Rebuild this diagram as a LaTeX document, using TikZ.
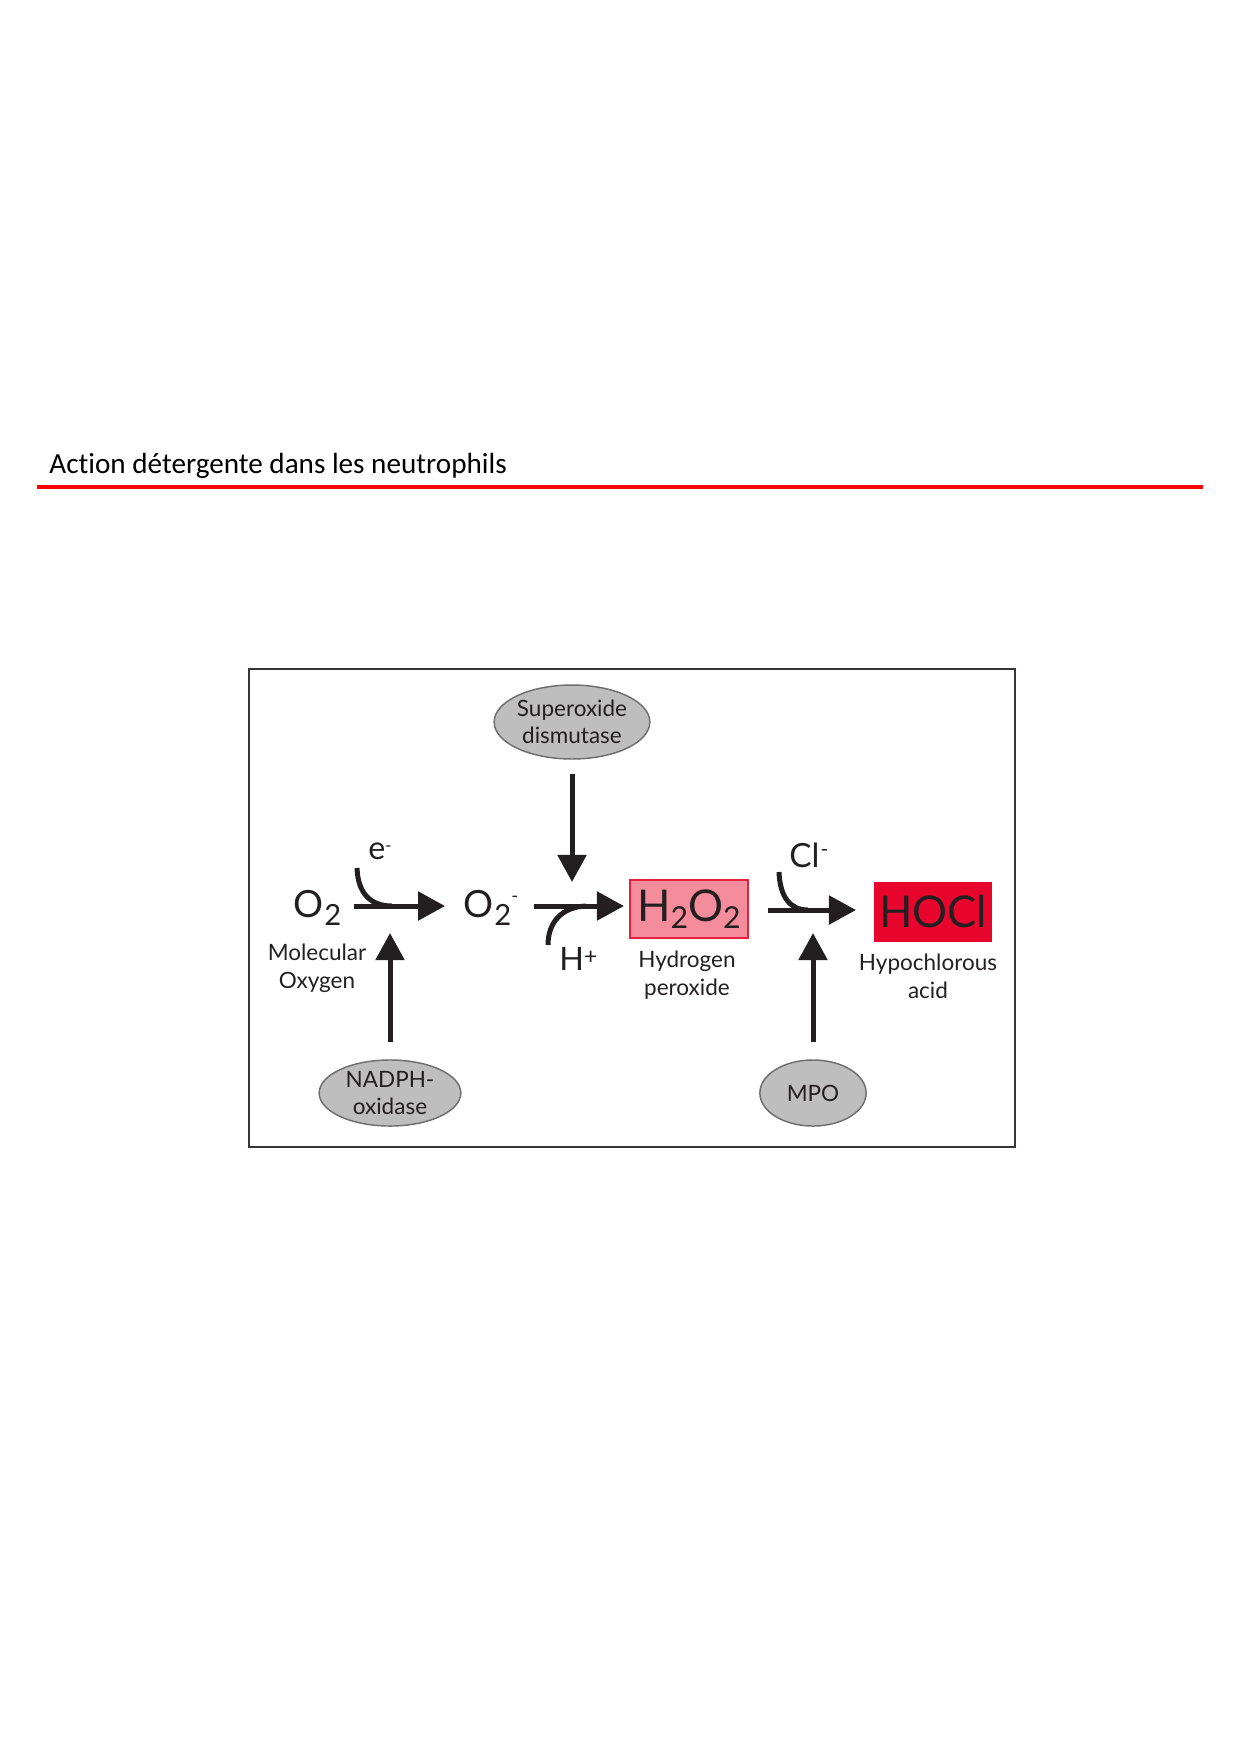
\documentclass[tikz,border=0pt]{standalone}
\usepackage{fontspec}
\setmainfont{Carlito}[Ligatures=NoCommon]
\newfontfamily\lato{Lato}
\usetikzlibrary{arrows.meta,shapes.geometric}
\definecolor{ink}{HTML}{231F20}
\definecolor{rougeh}{HTML}{E6203F}
\definecolor{roseh}{HTML}{F48C9B}
\definecolor{rougehocl}{HTML}{E8052D}
\definecolor{grisfond}{HTML}{BEBEBE}
\definecolor{grisbord}{HTML}{6E6E6E}
\newcommand{\chemidx}[3]{{\fontsize{#1}{#1}\selectfont\raisebox{#2}{#3}}}

\begin{document}
\begin{tikzpicture}[x=0.48pt, y=-0.48pt,
    enzyme/.style={ellipse, draw=grisbord, line width=0.7pt, fill=grisfond, inner sep=0pt,
        align=center, text=ink, font=\lato\fontsize{10.8}{13}\selectfont},
    espece/.style={inner sep=0pt, text=ink, anchor=base west},
    legende/.style={inner sep=0pt, text=ink, align=center, anchor=base,
        font=\lato\fontsize{10.8}{13}\selectfont},
    fleche/.style={draw=ink, line width=2.4pt, -{Triangle[length=13pt,width=13.5pt]}},
    courbe/.style={draw=ink, line width=2.4pt}]

    \useasboundingbox ( 0, 0 ) rectangle ( 1240, 1755 );

    % titre
    \node [anchor=base west, inner sep=0pt, font=\fontsize{14}{17}\selectfont] (titre) at ( 49, 473 ) {Action détergente dans les neutrophils};
    \draw [red, line width=1.6pt] ( 37, 487 ) -- ( 1203, 487 );

    % cadre
    \draw [ink!90, line width=0.9pt] ( 249, 669 ) rectangle ( 1015, 1147 );

    % enzymes
    \node [enzyme, minimum width=73pt, minimum height=35.5pt] (sod) at ( 572, 722 ) {Superoxide\\dismutase};
    \node [enzyme, minimum width=68pt, minimum height=31.7pt] (nadph) at ( 390, 1093 ) {NADPH-\\oxidase};
    \node [enzyme, minimum width=51pt, minimum height=31.7pt] (mpo) at ( 813, 1093 ) {MPO};

    % especes
    \node [espece, font=\lato\fontsize{18}{20}\selectfont] (o2) at ( 293, 917 ) {O\kern0.5pt\chemidx{14}{-4.3pt}{2}};
    \node [espece, font=\lato\fontsize{18}{20}\selectfont] (o2m) at ( 463, 917 ) {O\kern0.5pt\chemidx{14}{-4.3pt}{2}\chemidx{9}{7.1pt}{-}};
    \node [espece, font=\lato\fontsize{15.5}{16}\selectfont] (e) at ( 368, 859 ) {e\chemidx{8}{3.6pt}{-}};
    \node [espece, font=\lato\fontsize{15.5}{16}\selectfont] (hp) at ( 559, 970 ) {H\chemidx{11}{2.8pt}{+}};
    \node [espece, font=\lato\fontsize{16}{16}\selectfont] (cl) at ( 789, 867 ) {Cl\kern0.5pt\chemidx{10}{5pt}{-}};
    \node [draw=rougeh, line width=1pt, fill=roseh, minimum width=56.6pt, minimum height=27.8pt, inner sep=0pt,
        text=ink, font=\lato\fontsize{21}{21}\selectfont] (h2o2) at ( 689, 909 ) {H\chemidx{14.5}{-3.4pt}{2}O\chemidx{14.5}{-3.4pt}{2}};
    \node [fill=rougehocl, minimum width=57.1pt, minimum height=28.8pt, inner sep=0pt,
        text=ink, font=\lato\fontsize{21}{21}\selectfont] (hocl) at ( 933, 912 ) {HOCl};

    % legendes
    \node [legende] (lmo) at ( 317, 988 ) {Molecular\\Oxygen};
    \node [legende] (lhp) at ( 687, 995 ) {Hydrogen\\peroxide};
    \node [legende] (lha) at ( 928, 998 ) {Hypochlorous\\acid};

    % fleches
    \coordinate (axe) at ( 0, 906 );
    \coordinate (axeb) at ( 0, 910 );
    \coordinate (pointe) at ( 0, 882 );
    \coordinate (socle) at ( 0, 933 );
    \draw [fleche, shorten <=5.8pt, shorten >=8.6pt] (o2.east |- axe) -- (o2m.west |- axe);
    \draw [fleche, shorten <=7.2pt, shorten >=2.4pt] (o2m.east |- axe) -- (h2o2.west |- axe);
    \draw [fleche, shorten <=9.1pt, shorten >=8.2pt] (h2o2.east |- axeb) -- (hocl.west |- axeb);
    \draw [fleche, shorten <=6.7pt] (sod.south) -- (sod.south |- pointe);
    \draw [fleche, shorten <=8.2pt] (nadph.north) -- (nadph.north |- socle);
    \draw [fleche, shorten <=8.2pt] (mpo.north) -- (mpo.north |- socle);

    % e-, H+, Cl-
    \draw [courbe] ( 357, 868 ) .. controls ( 358, 893 ) and ( 370, 906 ) .. ( 392, 906 );
    \draw [courbe] ( 586, 906 ) .. controls ( 562, 907 ) and ( 548, 922 ) .. ( 548, 945 );
    \draw [courbe] ( 779, 872 ) .. controls ( 780, 897 ) and ( 790, 910 ) .. ( 808, 910 );
\end{tikzpicture}
\end{document}
